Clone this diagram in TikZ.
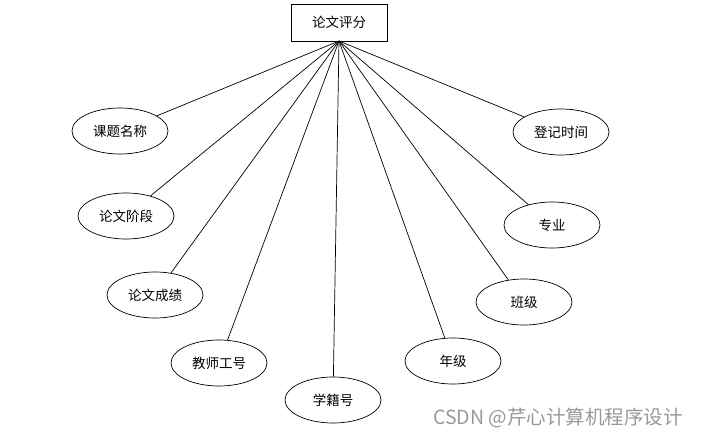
\documentclass[tikz,border=0pt]{standalone}
\usepackage{fontspec}
\newfontfamily\cjk{Noto Sans CJK SC}
\usetikzlibrary{shapes.geometric}
\begin{document}
\begin{tikzpicture}[x=1pt,y=-1pt,
  attr/.style={draw,ellipse,line width=0.7pt,minimum width=96pt,minimum height=46pt,inner sep=0pt,font=\cjk\fontsize{13.5}{15}\selectfont},
  ent/.style={draw,rectangle,line width=0.8pt,minimum width=96pt,minimum height=37pt,inner sep=0pt,font=\cjk\fontsize{13.5}{15}\selectfont},
  conn/.style={line width=0.7pt}]
\useasboundingbox (0,0) rectangle (701,438);
\node[ent] (top) at (339,22.5) {论文评分};
\coordinate (hub) at (339,41);
\node[attr] (a1) at (120,131) {课题名称};
\node[attr] (a2) at (126,216) {论文阶段};
\node[attr] (a3) at (155,295) {论文成绩};
\node[attr] (a4) at (219,363) {教师工号};
\node[attr] (a5) at (333,400) {学籍号};
\node[attr] (a6) at (453,361) {年级};
\node[attr] (a7) at (524,302) {班级};
\node[attr] (a8) at (552,225) {专业};
\node[attr] (a9) at (561,132) {登记时间};
\foreach \n in {a1,a2,a3,a4,a5,a6,a7,a8,a9} \draw[conn] (hub) -- (\n);
\node[anchor=west,text=gray!80,font=\cjk\fontsize{19.5}{21}\selectfont,inner sep=0pt] (wm) at (433,418) {CSDN @芹心计算机程序设计};
\end{tikzpicture}
\end{document}
